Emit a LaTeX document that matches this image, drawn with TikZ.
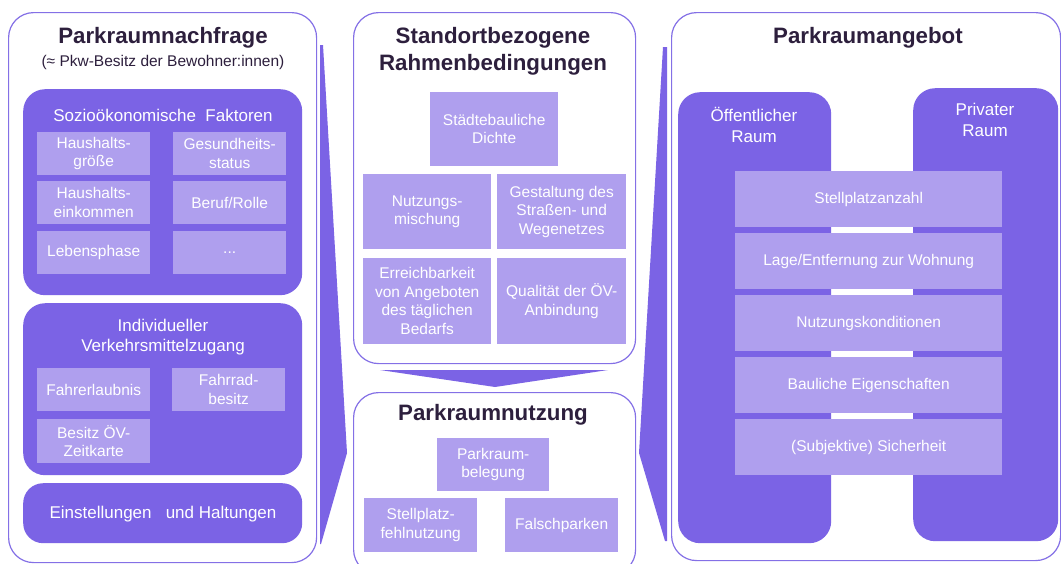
\documentclass[tikz,border=0pt]{standalone}
\usepackage{fontspec}
\setmainfont{Liberation Sans}
\usetikzlibrary{positioning}

\definecolor{rim}{HTML}{8470E6}
\definecolor{deep}{HTML}{7B63E5}
\definecolor{pale}{HTML}{AF9FEE}
\definecolor{ink}{HTML}{2D1F3D}

\tikzset{
  panel/.style={draw=rim,line width=1.2pt,rounded corners=25pt,fill=white,anchor=north west,inner sep=0pt},
  group/.style={fill=deep,rounded corners=22pt,anchor=north west,inner sep=0pt},
  item/.style={fill=pale,text=white,align=center,anchor=north west,inner sep=0pt,font=\fontsize{15.5}{18.5}\selectfont},
  heading/.style={text=ink,align=center,font=\bfseries\fontsize{22.3}{27}\selectfont},
  grouptitle/.style={text=white,align=center,font=\fontsize{17}{20.5}\selectfont}
}

\begin{document}
\begin{tikzpicture}[x=1pt,y=-1pt]
\useasboundingbox (0,0) rectangle (1061,563);
\clip (0,0) rectangle (1061,563);

% Rahmen
\node[panel,minimum width=308,minimum height=550] (nachfrage) at (8,12) {};
\node[panel,minimum width=282,minimum height=351] (standort) at (353,12) {};
\node[panel,minimum width=282,minimum height=182] (nutzung) at (353,392) {};
\node[panel,minimum width=389,minimum height=548] (angebot) at (671,12) {};

% Pfeile
\fill[deep] (320,45) -- (323,45) -- (347,453) -- (321,544) -- (320,544) -- cycle;
\fill[deep] (663,47) -- (667,47) -- (667,541) -- (665,541) -- (639,453) -- cycle;
\fill[deep] (380,370) -- (608,370) -- (495,387) -- cycle;

% Parkraumnachfrage
\node[heading] (nachfrageT) at (163,38) {Parkraumnachfrage};
\node[text=ink,font=\fontsize{15.5}{18}\selectfont] (nachfrageS) at (163,62) {(≈ Pkw-Besitz der Bewohner:innen)};

\node[group,minimum width=279,minimum height=206] (sozio) at (23,89) {};
\node[grouptitle] (sozioT) at (163,115) {Sozioökonomische\ \ Faktoren};
\foreach \x/\y/\nm/\txt in {37/132/hhg/{Haushalts-\\größe},173/132/ges/{Gesundheits-\\status},
    37/181/hhe/{Haushalts-\\einkommen},173/181/beruf/{Beruf/Rolle},
    37/231/leben/{Lebensphase},173/231/etc/{...}}
  \node[item,minimum width=113,minimum height=43] (\nm) at (\x,\y) {\txt};

\node[group,minimum width=279,minimum height=172] (zugang) at (23,303) {};
\node[grouptitle] (zugangT) at (163,337) {Individueller\\Verkehrsmittelzugang};
\node[item,minimum width=113,minimum height=43] (fuehrer) at (37,368) {Fahrerlaubnis};
\node[item,minimum width=113,minimum height=43] (rad) at (172,368) {Fahrrad-\\besitz};
\node[item,minimum width=113,minimum height=44] (zeitkarte) at (37,419) {Besitz ÖV-\\Zeitkarte};

\node[group,rounded corners=20pt,minimum width=279,minimum height=60] (haltung) at (23,483) {};
\node[grouptitle] (haltungT) at (163,514) {Einstellungen\ \ \ und Haltungen};

% Standortbezogene Rahmenbedingungen
\node[heading] (standortT) at (493,51.5) {Standortbezogene\\Rahmenbedingungen};
\node[item,minimum width=128,minimum height=74] (dichte) at (430,92) {Städtebauliche\\Dichte};
\node[item,minimum width=128,minimum height=75] (mischung) at (363,174) {Nutzungs-\\mischung};
\node[item,minimum width=129,minimum height=75] (netz) at (497,174) {Gestaltung des\\Straßen- und\\Wegenetzes};
\node[item,minimum width=128,minimum height=86] (erreich) at (363,258) {Erreichbarkeit\\von Angeboten\\des täglichen\\Bedarfs};
\node[item,minimum width=129,minimum height=86] (oev) at (497,258) {Qualität der ÖV-\\Anbindung};

% Parkraumnutzung
\node[heading] (nutzungT) at (493,415) {Parkraumnutzung};
\node[item,minimum width=112,minimum height=53] (belegung) at (437,438) {Parkraum-\\belegung};
\node[item,minimum width=113,minimum height=54] (fehl) at (364,498) {Stellplatz-\\fehlnutzung};
\node[item,minimum width=113,minimum height=54] (falsch) at (505,498) {Falschparken};

% Parkraumangebot
\node[heading] (angebotT) at (868,38) {Parkraumangebot};
\node[group,minimum width=153,minimum height=451] (oeff) at (678,92) {};
\node[group,minimum width=145,minimum height=453] (priv) at (913,88) {};
\node[grouptitle] (oeffT) at (754,125) {Öffentlicher\\Raum};
\node[grouptitle] (privT) at (985,120) {Privater\\Raum};
\foreach \txt [count=\n from 0] in {Stellplatzanzahl,Lage/Entfernung zur Wohnung,Nutzungskonditionen,Bauliche Eigenschaften,(Subjektive) Sicherheit}
  \node[item,minimum width=267,minimum height=56] (merkmal\n) at (735,171+62*\n) {\txt};
\end{tikzpicture}
\end{document}
